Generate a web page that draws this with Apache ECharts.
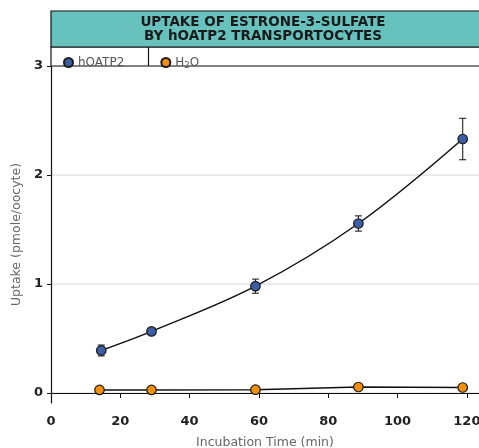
<!DOCTYPE html>
<html><head><meta charset="utf-8">
<script src="https://cdn.jsdelivr.net/npm/echarts@6/dist/echarts.min.js"></script>
<style>html,body{margin:0;padding:0;background:#fff}#c{width:479px;height:448px}</style>
</head><body><div id="c"></div>
<script>
const titleLines = ['UPTAKE OF ESTRONE-3-SULFATE', 'BY hOATP2 TRANSPORTOCYTES'];
const xTicks = [0, 20, 40, 60, 80, 100, 120];
const yTicks = [0, 1, 2, 3];
const timeOATP = [14.5, 29, 59, 88.7, 118.8];
const uptakeOATP = [0.39, 0.565, 0.98, 1.555, 2.33];
const errOATP = [0.05, 0.02, 0.065, 0.07, 0.19];
const timeH2O = [14, 29, 59, 88.7, 118.8];
const uptakeH2O = [0.028, 0.028, 0.03, 0.055, 0.05];

const chart = echarts.init(document.getElementById('c'));
const pts = (xs, ys) => xs.map((x, i) => [x, ys[i]]);
const errData = timeOATP.map((x, i) => [x, uptakeOATP[i] - errOATP[i], uptakeOATP[i] + errOATP[i]]);

chart.setOption({
  animation: false,
  graphic: [
    { type: 'rect', shape: { x: 51, y: 11, width: 440, height: 36 }, style: { fill: '#67c2be', stroke: '#111', lineWidth: 1.2 }, z: 10 },
    { type: 'rect', shape: { x: 51, y: 47, width: 440, height: 19 }, style: { fill: '#fff', stroke: '#111', lineWidth: 1.2 }, z: 9 },
    { type: 'line', shape: { x1: 148.5, y1: 47, x2: 148.5, y2: 66 }, style: { stroke: '#111', lineWidth: 1.2 }, z: 10 },
    { type: 'text', x: 263, y: 22, style: { text: titleLines[0], font: 'bold 13.5px "DejaVu Sans"', fill: '#1a1a1a', align: 'center', verticalAlign: 'middle' }, z: 11 },
    { type: 'text', x: 263, y: 36.5, style: { text: titleLines[1], font: 'bold 13.5px "DejaVu Sans"', fill: '#1a1a1a', align: 'center', verticalAlign: 'middle' }, z: 11 }
  ],
  legend: {
    left: 58, top: 51.5, itemWidth: 9, itemHeight: 9, itemGap: 36, icon: 'circle',
    z: 20,
    data: ['hOATP2', 'H2O'],
    formatter: n => n === 'H2O' ? '{a|H}{s|2}{a|O}' : '{a|' + n + '}',
    textStyle: {
      color: '#555', fontFamily: 'DejaVu Sans', fontSize: 12,
      rich: {
        a: { color: '#555', fontFamily: 'DejaVu Sans', fontSize: 12 },
        s: { color: '#555', fontFamily: 'DejaVu Sans', fontSize: 8.5, padding: [7, 0, 0, 0] }
      }
    }
  },
  grid: { left: 51, right: 0, top: 66, bottom: 45, containLabel: false, outerBoundsMode: 'none' },
  xAxis: {
    type: 'value', min: 0, max: 123.5, interval: 20,
    name: 'Incubation Time (min)', nameLocation: 'middle', nameGap: 33,
    nameTextStyle: { color: '#666', fontFamily: 'DejaVu Sans', fontSize: 12.5 },
    axisLine: { lineStyle: { color: '#111', width: 1.2 } },
    axisTick: { length: 5, lineStyle: { color: '#111' }, customValues: xTicks },
    axisLabel: { customValues: xTicks, color: '#222', fontWeight: 'bold', fontFamily: 'DejaVu Sans', fontSize: 13, margin: 12 },
    splitLine: { show: false }
  },
  yAxis: {
    type: 'value', min: -0.092, max: 3,
    name: 'Uptake (pmole/oocyte)', nameLocation: 'middle', nameGap: 25,
    nameTextStyle: { color: '#666', fontFamily: 'DejaVu Sans', fontSize: 12.5 },
    axisLine: { show: true, lineStyle: { color: '#111', width: 1.2 } },
    axisTick: { show: true, length: 4, lineStyle: { color: '#111' }, customValues: yTicks },
    axisLabel: { customValues: yTicks, color: '#222', fontWeight: 'bold', fontFamily: 'DejaVu Sans', fontSize: 13, margin: 8 },
    splitLine: { show: true, lineStyle: { color: '#e3e3e3', width: 1.5 } }
  },
  series: [
    {
      name: 'hOATP2', type: 'line', data: pts(timeOATP, uptakeOATP), smooth: 0.35,
      symbol: 'circle', symbolSize: 9.5, z: 5,
      lineStyle: { color: '#111', width: 1.5 },
      itemStyle: { color: '#3b5ea7', borderColor: '#1a1a1a', borderWidth: 1.2 }
    },
    {
      name: 'H2O', type: 'line', data: pts(timeH2O, uptakeH2O), smooth: false,
      symbol: 'circle', symbolSize: 9.5, z: 5,
      lineStyle: { color: '#111', width: 1.5 },
      itemStyle: { color: '#f28f0c', borderColor: '#1a1a1a', borderWidth: 1.2 }
    },
    {
      type: 'custom', name: 'err', data: errData, z: 4,
      renderItem: (params, api) => {
        const lo = api.coord([api.value(0), api.value(1)]);
        const hi = api.coord([api.value(0), api.value(2)]);
        const w = 3.5;
        const st = { stroke: '#222', lineWidth: 1.1 };
        return { type: 'group', children: [
          { type: 'line', shape: { x1: lo[0], y1: lo[1], x2: hi[0], y2: hi[1] }, style: st },
          { type: 'line', shape: { x1: lo[0] - w, y1: lo[1], x2: lo[0] + w, y2: lo[1] }, style: st },
          { type: 'line', shape: { x1: hi[0] - w, y1: hi[1], x2: hi[0] + w, y2: hi[1] }, style: st }
        ]};
      }
    }
  ]
});
</script></body></html>
